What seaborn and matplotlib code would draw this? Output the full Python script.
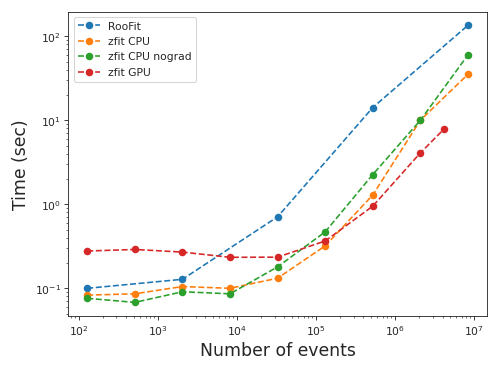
import numpy as np
import pandas as pd
import matplotlib
matplotlib.use("Agg")
import matplotlib.pyplot as plt
import seaborn as sns

# events per fit
n_roofit = [128, 2048, 32768, 524288, 8388608]
n_cpu = [128, 512, 2048, 8192, 32768, 131072, 524288, 2097152, 8388608]
n_gpu = [128, 512, 2048, 8192, 32768, 131072, 524288, 2097152, 4194304]

# time in sec
t_roofit = [0.10, 0.128, 0.71, 14.2, 135]
t_cpu = [0.083, 0.086, 0.105, 0.10, 0.132, 0.32, 1.29, 10.0, 35.3]
t_nograd = [0.076, 0.068, 0.091, 0.086, 0.18, 0.47, 2.26, 10.0, 60]
t_gpu = [0.278, 0.29, 0.27, 0.234, 0.235, 0.366, 0.95, 4.09, 7.9]

series = [("RooFit", n_roofit, t_roofit),
          ("zfit CPU", n_cpu, t_cpu),
          ("zfit CPU nograd", n_cpu, t_nograd),
          ("zfit GPU", n_gpu, t_gpu)]

sns.set_style("ticks")
fig, ax = plt.subplots(figsize=(6.4, 4.8), dpi=77.8)
colors = sns.color_palette("tab10")

for i, (name, n, t) in enumerate(series):
    df = pd.DataFrame({"n": n, "t": t})
    sns.lineplot(data=df, x="n", y="t", ax=ax, label=name, color=colors[i],
                 linestyle="--", marker="o", markersize=7, markeredgewidth=0)

ax.set_xscale("log")
ax.set_yscale("log")
ax.set_xlabel("Number of events", fontsize=16)
ax.set_ylabel("Time (sec)", fontsize=16)
ax.legend(loc="upper left", fontsize=10)
fig.subplots_adjust(left=0.137, right=0.978, bottom=0.152, top=0.968)
fig.savefig("out.png")
